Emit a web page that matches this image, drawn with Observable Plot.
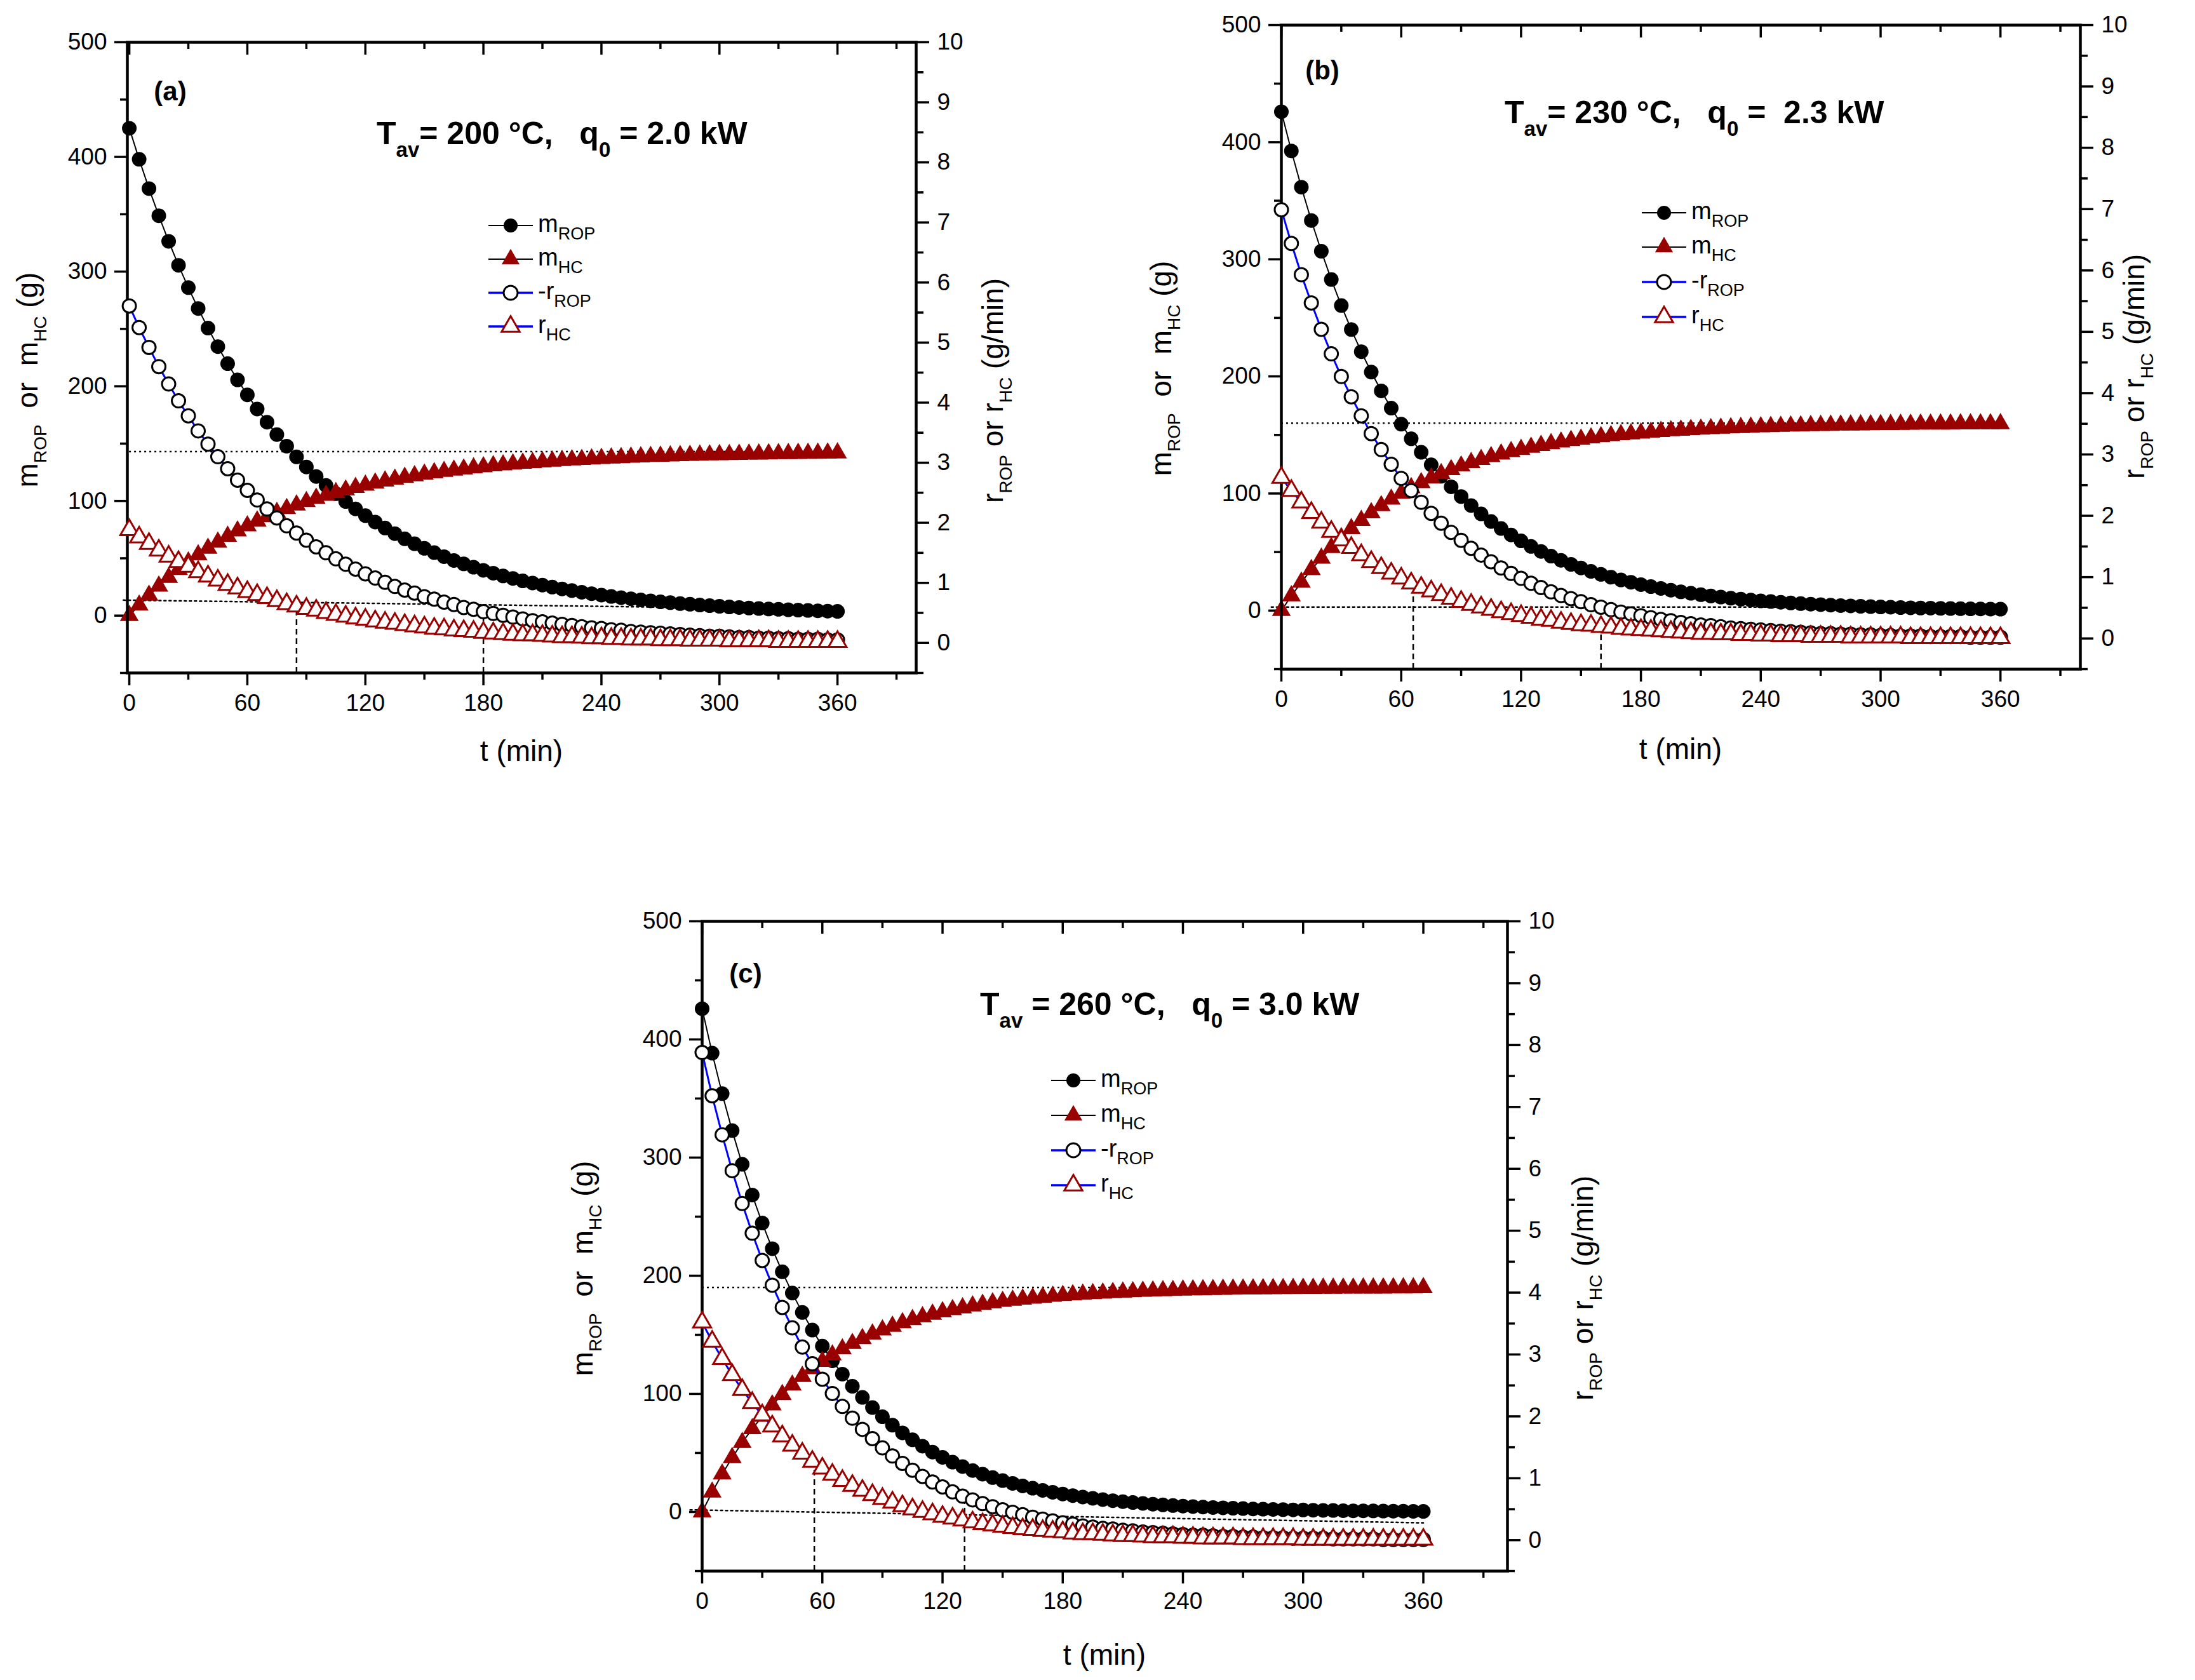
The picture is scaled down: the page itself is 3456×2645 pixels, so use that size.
<!DOCTYPE html>
<html>
<head>
<meta charset="utf-8">
<script src="https://cdn.jsdelivr.net/npm/d3@7"></script>
<script src="https://cdn.jsdelivr.net/npm/@observablehq/plot@0.6"></script>
<style>
  html, body { margin: 0; padding: 0; background: #fff; }
  #page { position: relative; width: 3456px; height: 2645px; overflow: hidden; background: #fff; }
  #page svg { position: absolute; }
</style>
</head>
<body>
<div id="page"></div>
<script>
// time of each sample (min)
const tMin = [0,5,10,15,20,25,30,35,40,45,50,55,60,65,70,75,80,85,90,95,100,105,110,115,120,125,130,135,140,145,150,155,160,165,170,175,180,185,190,195,200,205,210,215,220,225,230,235,240,245,250,255,260,265,270,275,280,285,290,295,300,305,310,315,320,325,330,335,340,345,350,355,360];

// (a) Tav = 200 °C
const mROP_a = [425.0,397.9,372.4,348.7,326.4,305.5,286.0,267.8,250.7,234.6,219.7,205.6,192.5,180.2,168.7,157.9,147.8,138.4,129.6,121.3,113.5,106.3,99.5,93.1,87.2,81.6,76.4,71.5,67.0,62.7,58.7,54.9,51.4,48.1,45.1,42.2,39.5,37.0,34.6,32.4,30.3,28.4,26.6,24.9,23.3,21.8,20.4,19.1,17.9,16.7,15.7,14.7,13.7,12.9,12.0,11.3,10.5,9.9,9.2,8.7,8.1,7.6,7.1,6.6,6.2,5.8,5.5,5.1,4.8,4.5,4.2,3.9,3.7];
const mHC_a = [0,9.1,17.7,25.7,33.2,40.2,46.8,52.9,58.7,64.0,69.1,73.8,78.2,82.4,86.2,89.9,93.3,96.4,99.4,102.2,104.8,107.2,109.5,111.7,113.7,115.5,117.3,118.9,120.5,121.9,123.3,124.5,125.7,126.8,127.8,128.8,129.7,130.6,131.4,132.1,132.8,133.4,134.1,134.6,135.2,135.7,136.1,136.6,137.0,137.4,137.7,138.1,138.4,138.7,138.9,139.2,139.5,139.7,139.9,140.1,140.3,140.4,140.6,140.8,140.9,141.0,141.2,141.3,141.4,141.5,141.6,141.7,141.8];
const rROP_a = [5.61,5.25,4.92,4.60,4.31,4.03,3.78,3.53,3.31,3.10,2.90,2.71,2.54,2.38,2.23,2.08,1.95,1.83,1.71,1.60,1.50,1.40,1.31,1.23,1.15,1.08,1.01,0.94,0.88,0.83,0.77,0.73,0.68,0.64,0.59,0.56,0.52,0.49,0.46,0.43,0.40,0.37,0.35,0.33,0.31,0.29,0.27,0.25,0.24,0.22,0.21,0.19,0.18,0.17,0.16,0.15,0.14,0.13,0.12,0.11,0.11,0.10,0.09,0.09,0.08,0.08,0.07,0.07,0.06,0.06,0.06,0.05,0.05];
const rHC_a = [1.88,1.76,1.65,1.54,1.44,1.35,1.27,1.18,1.11,1.04,0.97,0.91,0.85,0.80,0.75,0.70,0.65,0.61,0.57,0.54,0.50,0.47,0.44,0.41,0.39,0.36,0.34,0.32,0.30,0.28,0.26,0.24,0.23,0.21,0.20,0.19,0.17,0.16,0.15,0.14,0.13,0.13,0.12,0.11,0.10,0.10,0.09,0.08,0.08,0.07,0.07,0.06,0.06,0.06,0.05,0.05,0.05,0.04,0.04,0.04,0.04,0.03,0.03,0.03,0.03,0.03,0.02,0.02,0.02,0.02,0.02,0.02,0.02];

// (b) Tav = 230 °C
const mROP_b = [426.0,392.5,361.6,333.1,306.9,282.7,260.5,240.0,221.1,203.7,187.6,172.9,159.2,146.7,135.2,124.5,114.7,105.7,97.4,89.7,82.6,76.1,70.1,64.6,59.5,54.8,50.5,46.5,42.9,39.5,36.4,33.5,30.9,28.5,26.2,24.2,22.2,20.5,18.9,17.4,16.0,14.8,13.6,12.5,11.5,10.6,9.8,9.0,8.3,7.7,7.1,6.5,6.0,5.5,5.1,4.7,4.3,4.0,3.7,3.4,3.1,2.9,2.6,2.4,2.2,2.1,1.9,1.8,1.6,1.5,1.4,1.3,1.2];
const mHC_b = [0,12.6,24.2,34.9,44.7,53.8,62.2,69.9,77.0,83.5,89.5,95.1,100.2,104.9,109.2,113.2,116.9,120.3,123.4,126.3,129.0,131.4,133.7,135.7,137.6,139.4,141.0,142.5,143.9,145.2,146.3,147.4,148.4,149.3,150.2,150.9,151.6,152.3,152.9,153.5,154.0,154.5,154.9,155.3,155.7,156.0,156.3,156.6,156.9,157.1,157.3,157.6,157.7,157.9,158.1,158.2,158.4,158.5,158.6,158.7,158.8,158.9,159.0,159.1,159.2,159.2,159.3,159.3,159.4,159.4,159.5,159.5,159.6];
const rROP_b = [6.99,6.44,5.93,5.47,5.04,4.64,4.27,3.94,3.63,3.34,3.08,2.84,2.61,2.41,2.22,2.04,1.88,1.73,1.60,1.47,1.36,1.25,1.15,1.06,0.98,0.90,0.83,0.76,0.70,0.65,0.60,0.55,0.51,0.47,0.43,0.40,0.37,0.34,0.31,0.29,0.26,0.24,0.22,0.21,0.19,0.17,0.16,0.15,0.14,0.13,0.12,0.11,0.10,0.09,0.08,0.08,0.07,0.07,0.06,0.06,0.05,0.05,0.04,0.04,0.04,0.03,0.03,0.03,0.03,0.02,0.02,0.02,0.02];
const rHC_b = [2.62,2.41,2.22,2.05,1.89,1.74,1.60,1.48,1.36,1.25,1.15,1.06,0.98,0.90,0.83,0.77,0.71,0.65,0.60,0.55,0.51,0.47,0.43,0.40,0.37,0.34,0.31,0.29,0.26,0.24,0.22,0.21,0.19,0.18,0.16,0.15,0.14,0.13,0.12,0.11,0.10,0.09,0.08,0.08,0.07,0.07,0.06,0.06,0.05,0.05,0.04,0.04,0.04,0.03,0.03,0.03,0.03,0.02,0.02,0.02,0.02,0.02,0.02,0.01,0.01,0.01,0.01,0.01,0.01,0.01,0.01,0.01,0.01];

// (c) Tav = 260 °C
const mROP_c = [426.0,388.4,354.1,322.8,294.3,268.3,244.6,222.9,203.3,185.3,168.9,154.0,140.4,128.0,116.7,106.4,97.0,88.4,80.6,73.5,67.0,61.1,55.7,50.7,46.3,42.2,38.5,35.1,32.0,29.1,26.6,24.2,22.1,20.1,18.3,16.7,15.2,13.9,12.7,11.6,10.5,9.6,8.8,8.0,7.3,6.6,6.0,5.5,5.0,4.6,4.2,3.8,3.5,3.2,2.9,2.6,2.4,2.2,2.0,1.8,1.7,1.5,1.4,1.3,1.1,1.0,1.0,0.9,0.8,0.7,0.7,0.6,0.5];
const mHC_c = [0,16.8,32.1,46.0,58.8,70.4,80.9,90.6,99.4,107.4,114.7,121.3,127.4,132.9,138.0,142.6,146.7,150.6,154.1,157.2,160.1,162.8,165.2,167.4,169.4,171.2,172.8,174.4,175.7,177.0,178.2,179.2,180.2,181.0,181.8,182.5,183.2,183.8,184.3,184.8,185.3,185.7,186.1,186.4,186.8,187.0,187.3,187.5,187.8,188.0,188.1,188.3,188.5,188.6,188.7,188.8,188.9,189.0,189.1,189.2,189.3,189.3,189.4,189.4,189.5,189.5,189.6,189.6,189.6,189.7,189.7,189.7,189.8];
const rROP_c = [7.88,7.18,6.55,5.97,5.44,4.96,4.52,4.12,3.76,3.43,3.12,2.85,2.60,2.37,2.16,1.97,1.79,1.64,1.49,1.36,1.24,1.13,1.03,0.94,0.86,0.78,0.71,0.65,0.59,0.54,0.49,0.45,0.41,0.37,0.34,0.31,0.28,0.26,0.23,0.21,0.19,0.18,0.16,0.15,0.13,0.12,0.11,0.10,0.09,0.08,0.08,0.07,0.06,0.06,0.05,0.05,0.04,0.04,0.04,0.03,0.03,0.03,0.03,0.02,0.02,0.02,0.02,0.02,0.01,0.01,0.01,0.01,0.01];
const rHC_c = [3.52,3.21,2.93,2.67,2.43,2.22,2.02,1.84,1.68,1.53,1.40,1.27,1.16,1.06,0.96,0.88,0.80,0.73,0.67,0.61,0.55,0.50,0.46,0.42,0.38,0.35,0.32,0.29,0.26,0.24,0.22,0.20,0.18,0.17,0.15,0.14,0.13,0.11,0.10,0.10,0.09,0.08,0.07,0.07,0.06,0.05,0.05,0.05,0.04,0.04,0.03,0.03,0.03,0.03,0.02,0.02,0.02,0.02,0.02,0.02,0.01,0.01,0.01,0.01,0.01,0.01,0.01,0.01,0.01,0.01,0.01,0.01,0.01];

// guide lines drawn on the mass axis (t in min, m in g)
const plateauA = [{t1: 0, t2: 360, m: 143}];
const plateauB = [{t1: 0, t2: 360, m: 160}];
const plateauC = [{t1: 0, t2: 360, m: 190}];
const baseA = [{t: -3, m: 13.5}, {t: 360, m: 5.4}];
const baseB = [{t: -5, m: 3}, {t: 360, m: 3}];
const baseC = [{t: -6, m: 1.8}, {t: 360, m: -9.2}];
const dropsA = [{t: 85, lo: -50, hi: 6}, {t: 180, lo: -50, hi: 9}];
const dropsB = [{t: 66, lo: -50, hi: 17}, {t: 160, lo: -50, hi: -9}];
const dropsC = [{t: 56, lo: -50, hi: 38}, {t: 131, lo: -50, hi: 9}];

// axis ticks
const tMajor = [0, 60, 120, 180, 240, 300, 360];
const tMinor = [30, 90, 150, 210, 270, 330, 390];
const mMajor = [0, 100, 200, 300, 400, 500];
const mMinor = [-50, 50, 150, 250, 350, 450];
const rMajor = [0, 1, 2, 3, 4, 5, 6, 7, 8, 9, 10];
const rMinor = [-0.5, 0.5, 1.5, 2.5, 3.5, 4.5, 5.5, 6.5, 7.5, 8.5, 9.5];

const FONT = "'Liberation Sans', Arial, Helvetica, sans-serif";
const RED = "#990000";
const BLUE = "#0000ff";

const panels = [
  {
    letter: "(a)", x0: 200, x1: 1442, y0: 66, y1: 1059, t0: -1, t1: 400,
    mROP: mROP_a, mHC: mHC_a, rROP: rROP_a, rHC: rHC_a,
    plateau: plateauA, base: baseA, drops: dropsA,
    letterPos: [268, 158],
    title: [["T"], ["av", 1], ["= 200 °C,\u00a0\u00a0 q"], ["0", 1], [" = 2.0 kW"]], titlePos: [593, 227],
    legendPos: [804, [355, 408, 461, 514]],
    leftLab: [59, 598], rightLab: [1579, 615], bottomLab: 1198
  },
  {
    letter: "(b)", x0: 2017, x1: 3275, y0: 39, y1: 1053, t0: 0, t1: 400,
    mROP: mROP_b, mHC: mHC_b, rROP: rROP_b, rHC: rHC_b,
    plateau: plateauB, base: baseB, drops: dropsB,
    letterPos: [2082, 125],
    title: [["T"], ["av", 1], ["= 230 °C,\u00a0\u00a0 q"], ["0", 1], [" =\u00a0 2.3 kW"]], titlePos: [2369, 194],
    legendPos: [2620, [335, 389, 444, 499]],
    leftLab: [1844, 580], rightLab: [3376, 577], bottomLab: 1195
  },
  {
    letter: "(c)", x0: 1105, x1: 2373, y0: 1450, y1: 2473, t0: 0, t1: 402,
    mROP: mROP_c, mHC: mHC_c, rROP: rROP_c, rHC: rHC_c,
    plateau: plateauC, base: baseC, drops: dropsC,
    letterPos: [1174, 1547],
    title: [["T"], ["av", 1], [" = 260 °C,\u00a0\u00a0 q"], ["0", 1], [" = 3.0 kW"]], titlePos: [1543, 1598],
    legendPos: [1690, [1701, 1756, 1811, 1866]],
    leftLab: [933, 1997], rightLab: [2508, 2028], bottomLab: 2621
  }
];

const page = document.getElementById("page");
const table = (vals) => tMin.map((t, i) => ({t, v: vals[i]})).filter((d) => d.v != null);

function drawPanel(p) {
  const mL = 150, mR = 150, mT = 30, mB = 110;
  const fw = p.x1 - p.x0, fh = p.y1 - p.y0;
  const base = {
    width: fw + mL + mR, height: fh + mT + mB,
    marginLeft: mL, marginRight: mR, marginTop: mT, marginBottom: mB,
    style: {background: "transparent", fontFamily: FONT, fontSize: "37px", color: "black", overflow: "visible"}
  };

  const mass = Plot.plot({
    ...base,
    x: {domain: [p.t0, p.t1]},
    y: {domain: [-50, 500]},
    marks: [
      Plot.axisY({ticks: mMajor, tickSize: 20, tickPadding: 12, strokeWidth: 3.5, label: null}),
      Plot.axisY({ticks: mMinor, tickSize: 11, tickFormat: () => "", strokeWidth: 3.5, label: null}),
      Plot.axisX({ticks: tMajor, tickSize: 20, tickPadding: 13, strokeWidth: 3.5, label: null}),
      Plot.axisX({ticks: tMinor, tickSize: 11, tickFormat: () => "", strokeWidth: 3.5, label: null}),
      Plot.tickX(tMajor, {x: (d) => d, insetBottom: fh - 20, strokeWidth: 3.5}),
      Plot.tickX(tMinor, {x: (d) => d, insetBottom: fh - 11, strokeWidth: 3.5}),
      Plot.ruleY(p.plateau, {y: "m", x1: "t1", x2: "t2", stroke: "black", strokeWidth: 2.5, strokeDasharray: "3 5"}),
      Plot.line(p.base, {x: "t", y: "m", stroke: "black", strokeWidth: 2.5, strokeDasharray: "3 5"}),
      Plot.ruleX(p.drops, {x: "t", y1: "lo", y2: "hi", stroke: "black", strokeWidth: 2.5, strokeDasharray: "9 6"}),
      Plot.line(table(p.mHC), {x: "t", y: "v", stroke: "black", strokeWidth: 2}),
      Plot.line(table(p.mROP), {x: "t", y: "v", stroke: "black", strokeWidth: 2}),
      Plot.dot(table(p.mROP), {x: "t", y: "v", r: 11.5, fill: "black", stroke: "none"}),
      Plot.dot(table(p.mHC), {x: "t", y: "v", symbol: "triangle", r: 11, fill: RED, stroke: "none"}),
      Plot.frame({stroke: "black", strokeWidth: 4.5})
    ]
  });

  const rate = Plot.plot({
    ...base,
    x: {domain: [p.t0, p.t1], axis: null},
    y: {domain: [-0.5, 10]},
    marks: [
      Plot.axisY({anchor: "right", ticks: rMajor, tickSize: 20, tickPadding: 13, strokeWidth: 3.5, label: null}),
      Plot.axisY({anchor: "right", ticks: rMinor, tickSize: 11, tickFormat: () => "", strokeWidth: 3.5, label: null}),
      Plot.line(table(p.rHC), {x: "t", y: "v", stroke: BLUE, strokeWidth: 3}),
      Plot.line(table(p.rROP), {x: "t", y: "v", stroke: BLUE, strokeWidth: 3}),
      Plot.dot(table(p.rROP), {x: "t", y: "v", r: 10.5, fill: "white", stroke: "black", strokeWidth: 3}),
      Plot.dot(table(p.rHC), {x: "t", y: "v", symbol: "triangle", r: 10.5, fill: "white", stroke: RED, strokeWidth: 3})
    ]
  });

  for (const el of [mass, rate]) {
    el.style.left = (p.x0 - mL) + "px";
    el.style.top = (p.y0 - mT) + "px";
    page.appendChild(el);
  }
}

panels.forEach(drawPanel);

// text and legends on top
const over = d3.create("svg")
  .attr("width", 3456).attr("height", 2645)
  .style("left", "0px").style("top", "0px").style("pointer-events", "none");

function rich(x, y, parts, size, subSize, shift, opts = {}) {
  const text = over.append("text")
    .attr("x", x).attr("y", y)
    .attr("font-family", FONT).attr("font-size", size)
    .attr("font-weight", opts.bold ? "bold" : "normal")
    .attr("text-anchor", opts.anchor || "start")
    .attr("fill", "black")
    .style("white-space", "pre");
  let prevSub = false;
  for (const [s, sub] of parts) {
    const ts = text.append("tspan").text(s);
    if (sub) ts.attr("font-size", subSize).attr("dy", prevSub ? 0 : shift);
    else if (prevSub) ts.attr("dy", -shift);
    prevSub = !!sub;
  }
  if (opts.rotate) text.attr("transform", `rotate(${opts.rotate},${x},${y})`);
  return text;
}

const legendItems = [
  {parts: [["m"], ["ROP", 1]], line: "black", lw: 2, sym: "circle", fill: "black", stroke: "none"},
  {parts: [["m"], ["HC", 1]], line: "black", lw: 2, sym: "triangle", fill: RED, stroke: "none"},
  {parts: [["-r"], ["ROP", 1]], line: BLUE, lw: 3.5, sym: "circle", fill: "white", stroke: "black"},
  {parts: [["r"], ["HC", 1]], line: BLUE, lw: 3.5, sym: "triangle", fill: "white", stroke: RED}
];

for (const p of panels) {
  rich(p.letterPos[0], p.letterPos[1], [[p.letter]], 42, 42, 0, {bold: true, anchor: "middle"});
  rich(p.titlePos[0], p.titlePos[1], p.title, 50, 33, 20, {bold: true});

  const [lx, rows] = p.legendPos;
  legendItems.forEach((it, i) => {
    const cy = rows[i];
    over.append("line").attr("x1", lx - 35).attr("x2", lx + 35).attr("y1", cy).attr("y2", cy)
      .attr("stroke", it.line).attr("stroke-width", it.lw);
    const path = it.sym === "circle"
      ? d3.symbol(d3.symbolCircle, Math.PI * 11 * 11)()
      : d3.symbol(d3.symbolTriangle, Math.PI * 10.5 * 10.5)();
    over.append("path").attr("d", path).attr("transform", `translate(${lx},${cy})`)
      .attr("fill", it.fill).attr("stroke", it.stroke).attr("stroke-width", 3);
    rich(lx + 43, cy + 10, it.parts, 38, 27, 12);
  });

  rich(p.leftLab[0], p.leftLab[1],
    [["m"], ["ROP", 1], ["\u00a0 or \u00a0m"], ["HC", 1], [" (g)"]], 46, 28, 14,
    {anchor: "middle", rotate: -90});
  rich(p.rightLab[0], p.rightLab[1],
    [["r"], ["ROP", 1], [" or r"], ["HC", 1], [" (g/min)"]], 46, 28, 14,
    {anchor: "middle", rotate: -90});
  rich((p.x0 + p.x1) / 2, p.bottomLab, [["t (min)"]], 46, 46, 0, {anchor: "middle"});
}

page.appendChild(over.node());
</script>
</body>
</html>
